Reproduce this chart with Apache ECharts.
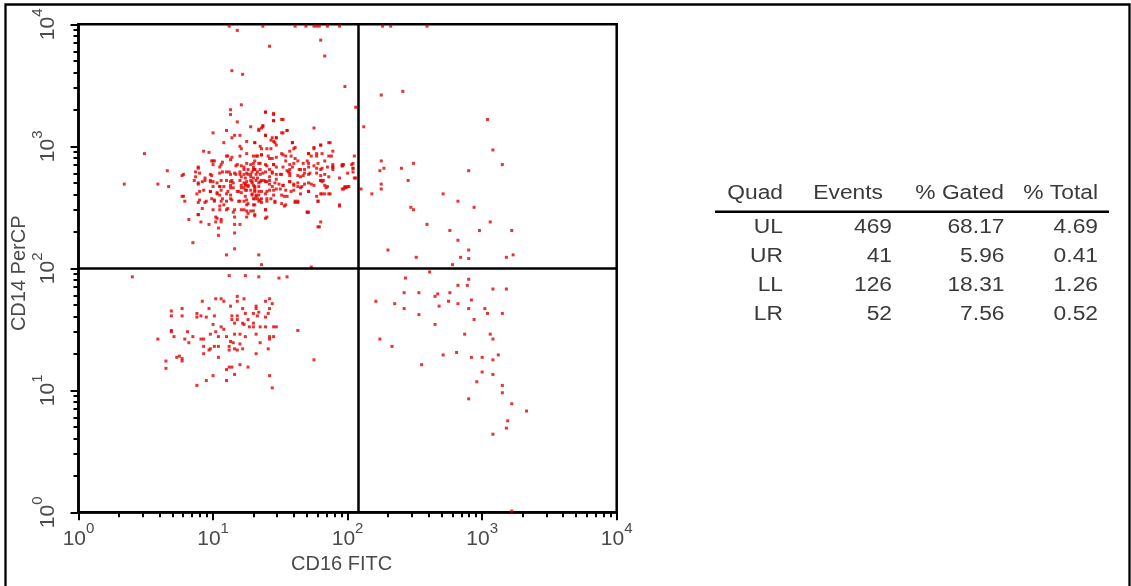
<!DOCTYPE html>
<html>
<head>
<meta charset="utf-8">
<title>CD16 FITC vs CD14 PerCP</title>
<script src="https://cdn.jsdelivr.net/npm/echarts@6/dist/echarts.min.js"></script>
<style>
  html, body { margin: 0; padding: 0; background: #fff; }
  #main { width: 1131px; height: 586px; }
</style>
</head>
<body>
<div id="main"></div>
<script>
// events, in decades: [log10 CD16 FITC, log10 CD14 PerCP]
const ulPoints = [
  [1.12,3.985],[1.37,3.985],[1.61,3.985],[1.69,3.985],[1.75,3.985],[1.77,3.985],[1.79,3.985],[1.85,3.985],[1.94,3.985],
  [1.18,3.95],[1.42,3.82],[1.80,3.87],[1.83,3.74],[1.14,3.62],[1.22,3.59],[1.98,3.49],[2.06,3.32],
  [1.21,3.34],[1.13,3.30],[1.13,3.26],[1.39,3.28],[1.45,3.26],[1.51,3.22],[1.45,3.21],[1.18,3.20],[1.28,3.16],[1.37,3.17],
  [1.34,3.14],[1.55,3.13],[1.75,3.15],[1.10,3.13],[1.00,3.11],[1.16,3.09],[1.20,3.09],[1.39,3.09],[1.14,3.07],[1.52,3.11],
  [1.47,3.07],[1.45,3.04],[1.08,3.03],[1.25,3.04],[1.31,3.03],[1.20,3.00],[1.21,2.98],[1.35,3.00],[1.40,2.98],[1.59,3.03],
  [1.60,2.98],[1.80,3.01],[1.87,3.03],[1.75,2.98],[0.93,2.96],[0.97,2.95],[0.49,2.94],
  [1.10,2.92],[1.14,2.91],[1.25,2.94],[1.33,2.92],[0.99,2.88],[1.01,2.88],[1.07,2.87],[1.17,2.84],[1.21,2.84],[0.89,2.83],
  [1.05,2.83],[1.25,2.86],[1.28,2.85],[1.30,2.86],[0.66,2.80],[0.77,2.76],[0.87,2.79],[0.87,2.75],[0.99,2.76],[1.07,2.79],
  [1.12,2.79],[1.17,2.77],[1.20,2.77],[1.23,2.77],[1.28,2.77],[1.33,2.79],[1.33,2.74],[0.94,2.74],[0.59,2.69],[0.67,2.67],
  [0.89,2.69],[0.92,2.71],[0.98,2.72],[1.00,2.71],[1.06,2.72],[1.10,2.72],[1.14,2.72],[1.05,2.67],[1.08,2.67],[1.13,2.68],
  [0.90,2.63],[0.98,2.63],[1.03,2.62],[1.05,2.60],[1.11,2.63],[1.13,2.60],[1.19,2.63],[1.21,2.62],[1.25,2.64],[0.77,2.59],
  [0.79,2.55],[0.89,2.54],[0.94,2.54],[0.99,2.57],[1.01,2.55],[1.07,2.57],[1.10,2.55],[1.14,2.56],[1.19,2.55],[1.23,2.55],
  [1.26,2.53],[1.33,2.57],[1.05,2.51],[1.08,2.52],[1.11,2.49],[1.16,2.48],[1.21,2.48],[1.25,2.47],[1.28,2.47],[0.89,2.44],
  [0.82,2.40],[0.91,2.38],[0.97,2.36],[1.02,2.42],[1.02,2.38],[1.06,2.38],[1.16,2.36],[1.20,2.36],[1.04,2.33],[1.16,2.29],
  [1.04,2.27],[0.85,2.21],
  [1.23,2.81],[1.26,2.81],[1.29,2.79],[1.31,2.81],[1.24,2.74],[1.28,2.72],[1.30,2.74],[1.35,2.77],[1.21,2.68],[1.24,2.69],
  [1.26,2.68],[1.29,2.70],[1.31,2.67],[1.34,2.70],[1.23,2.66],[1.28,2.64],[1.31,2.63],[1.34,2.60],[1.24,2.59],[1.29,2.60],
  [1.31,2.57],[1.25,2.52],[1.30,2.52],[1.34,2.55],
  [1.39,3.28],[1.45,3.27],[1.45,3.21],[1.52,3.22],[1.37,3.16],[1.36,3.15],[1.34,3.13],[1.55,3.13],[1.51,3.11],[1.39,3.09],
  [1.44,3.07],[1.47,3.07],[1.43,3.05],[1.31,3.03],[1.59,3.03],[1.46,3.03],[1.47,3.01],[1.36,2.98],[1.36,2.93],[1.43,2.98],
  [1.61,2.99],[1.75,2.99],[1.80,3.01],[1.86,3.03],
  [1.57,2.96],[1.71,2.94],[1.73,2.92],[1.77,2.94],[1.51,2.94],[1.54,2.92],[1.41,2.92],[1.44,2.90],[1.32,2.92],[1.31,2.88],
  [1.34,2.86],[2.05,2.92],[1.86,2.92],[1.89,2.96],[1.61,2.90],[1.63,2.88],[1.70,2.88],[1.71,2.86],[1.83,2.88],[1.78,2.86],
  [1.39,2.85],[1.45,2.85],[1.47,2.83],[1.54,2.88],[1.57,2.85],[1.59,2.83],[1.65,2.81],[1.68,2.81],[1.77,2.82],[1.80,2.81],
  [1.85,2.83],[1.89,2.83],[1.89,2.81],[1.96,2.84],[2.03,2.85],[2.04,2.82],[1.31,2.81],[1.35,2.81],[1.39,2.79],[1.44,2.79],
  [1.47,2.77],[1.42,2.75],[1.51,2.77],[1.56,2.79],[1.57,2.76],[1.63,2.76],[1.67,2.76],[1.71,2.77],[1.80,2.76],[1.83,2.77],
  [1.94,2.74],[2.05,2.74],[1.32,2.72],[1.36,2.72],[1.39,2.71],[1.42,2.69],[1.49,2.69],[1.52,2.68],[1.57,2.71],[1.60,2.69],
  [1.63,2.67],[1.68,2.69],[1.73,2.69],[1.80,2.72],[1.82,2.72],[1.83,2.68],[1.84,2.66],[1.98,2.66],[2.00,2.67],[1.96,2.65],
  [1.31,2.64],[1.36,2.63],[1.40,2.63],[1.45,2.64],[1.50,2.65],[1.60,2.64],[1.65,2.66],[1.71,2.63],[1.80,2.61],[1.83,2.61],
  [1.86,2.61],[1.32,2.60],[1.36,2.57],[1.40,2.57],[1.43,2.57],[1.53,2.59],[1.61,2.55],[1.63,2.54],[1.78,2.55],[1.36,2.54],
  [1.31,2.52],[1.46,2.54],[1.53,2.51],[1.94,2.51],[1.39,2.48],[1.70,2.46],[1.31,2.44],[1.40,2.42],[1.80,2.38],[1.78,2.34],
  [0.34,2.69],[0.78,2.77],[0.78,2.59],[1.10,2.11],[1.16,2.16],[1.34,2.11],[1.36,2.03],[1.73,2.01],[1.79,2.34],[1.71,2.46],
  [1.94,2.52],[1.98,2.67],[2.01,2.67],[2.04,2.79],[2.04,2.86],[1.97,2.85],[1.89,2.83],[1.96,2.84],[2.00,2.78],[2.04,2.82],
  [2.06,2.74],[1.97,2.65],[1.99,2.66],
  [1.00,2.88],[1.11,2.92],[1.13,2.89],[1.20,2.92],[1.30,2.92],[1.36,2.93],[1.42,2.90],[1.47,2.91],[1.52,2.93],[1.58,2.92],
  [1.71,2.94],[1.77,2.92],[1.81,2.94],[1.88,2.92],
  [0.89,2.82],[0.90,2.78],[1.00,2.85],[1.06,2.85],[1.18,2.85],[1.23,2.83],[1.30,2.83],[1.35,2.86],[1.40,2.84],[1.45,2.85],
  [1.52,2.83],[1.57,2.81],[1.64,2.81],[1.71,2.83],[1.75,2.84],[1.81,2.82],[1.89,2.85],[1.96,2.85],
  [0.86,2.72],[0.98,2.77],[1.05,2.78],[1.10,2.79],[1.16,2.78],[1.21,2.75],[1.26,2.77],[1.32,2.77],[1.37,2.78],[1.44,2.78],
  [1.50,2.77],[1.55,2.80],[1.57,2.78],[1.65,2.75],[1.72,2.78],[1.80,2.72],
  [0.89,2.70],[0.98,2.71],[1.03,2.70],[1.05,2.67],[1.15,2.70],[1.23,2.70],[1.25,2.71],[1.30,2.68],[1.35,2.71],[1.40,2.71],
  [1.46,2.70],[1.52,2.68],[1.57,2.71],[1.63,2.70],[1.66,2.67],[1.71,2.70],[1.75,2.68],[1.81,2.71],
  [0.88,2.61],[0.93,2.64],[0.98,2.63],[1.06,2.64],[1.10,2.61],[1.18,2.63],[1.24,2.64],[1.29,2.61],[1.34,2.63],[1.39,2.61],
  [1.42,2.64],[1.47,2.65],[1.54,2.64],[1.58,2.63],[1.71,2.63],[1.81,2.61],[1.87,2.61],
  [0.90,2.56],[0.95,2.55],[1.01,2.56],[1.06,2.55],[1.13,2.57],[1.20,2.55],[1.25,2.56],[1.30,2.57],[1.32,2.59],[1.40,2.55],
  [1.46,2.55],[1.51,2.53],[1.61,2.54],[1.63,2.55],[1.78,2.55],
  [0.92,2.49],[1.00,2.48],[1.05,2.48],[1.10,2.48],[1.15,2.46],[1.23,2.48],[1.26,2.45],[1.30,2.47],[1.39,2.48],[1.54,2.52],
  [1.70,2.46],[0.89,2.44],[1.03,2.41],[1.06,2.40],[1.16,2.42],[1.25,2.42],[1.31,2.43],[1.39,2.41],
  [1.20,2.72],[1.24,2.68],[1.26,2.67],[1.29,2.71],[1.31,2.66],[1.21,2.66],[1.28,2.75],[1.15,2.66],[1.34,2.67],[1.38,2.72],
  [1.42,2.72],[1.44,2.67],[1.47,2.73],[1.45,2.60],[1.35,2.56],[1.42,2.81],[1.30,2.81],[1.25,2.78],[1.20,2.79],[1.13,2.77],
  [1.13,2.71],[1.13,2.66],[1.03,2.61],[1.00,2.67],[0.94,2.72],[1.51,2.60],[1.55,2.59],[1.60,2.68],[1.60,2.86],[1.67,2.86],
  [1.68,2.78],[1.77,2.78],[1.86,2.75],[1.85,2.67],[1.77,2.59],[1.65,2.61]
];

const urPoints = [
  [2.26,3.985],[2.32,3.985],[2.59,3.985],
  [2.25,3.42],[2.41,3.45],[2.12,3.16],[2.18,2.61],[2.24,2.80],[3.04,3.22],[3.08,2.97],[3.15,2.85],[2.90,2.80],[2.25,2.88],
  [2.27,2.82],[2.40,2.82],[2.49,2.86],[2.45,2.72],[2.25,2.69],[2.25,2.65],[2.10,2.65],[2.71,2.61],[2.82,2.55],[2.47,2.50],
  [2.49,2.48],[2.94,2.50],[2.59,2.36],[3.06,2.38],[2.76,2.31],[2.98,2.31],[3.22,2.31],[2.82,2.23],[2.30,2.15],[2.90,2.15],
  [2.51,2.09],[2.84,2.09],[2.90,2.08],[3.18,2.09],[3.23,2.11],[2.78,2.03]
];

const llPoints = [
  [0.40,1.93],[1.12,1.94],[1.24,1.94],[1.34,1.93],[1.49,1.92],[1.55,1.93],
  [0.92,1.73],[1.02,1.75],[1.06,1.75],[1.08,1.73],[1.18,1.77],[1.18,1.73],[1.23,1.75],[1.39,1.73],[1.42,1.75],[1.44,1.71],
  [1.13,1.69],[0.97,1.67],[0.77,1.67],[1.22,1.67],[1.32,1.69],[1.32,1.67],[1.34,1.64],[1.42,1.67],[1.41,1.63],[0.69,1.65],
  [0.69,1.61],[0.77,1.61],[0.88,1.63],[0.91,1.61],[0.88,1.60],[1.01,1.61],[0.95,1.60],[1.14,1.61],[1.14,1.58],[1.18,1.61],
  [1.18,1.58],[1.24,1.63],[1.30,1.63],[1.33,1.61],[1.26,1.58],[1.16,1.55],[1.22,1.55],[1.23,1.54],[1.30,1.55],[1.27,1.52],
  [1.30,1.52],[1.35,1.52],[1.39,1.52],[1.45,1.52],[1.47,1.52],[1.39,1.60],[1.00,1.54],[1.06,1.52],[1.08,1.50],[0.69,1.49],
  [0.69,1.48],[0.81,1.48],[1.02,1.48],[0.98,1.46],[0.71,1.44],[0.59,1.42],[0.79,1.42],[0.85,1.44],[0.91,1.42],[0.93,1.42],
  [1.04,1.44],[1.10,1.44],[1.16,1.46],[1.20,1.46],[1.24,1.44],[1.32,1.46],[1.42,1.44],[1.42,1.42],[1.45,1.44],[0.82,1.39],
  [1.13,1.40],[1.15,1.39],[1.20,1.38],[1.35,1.39],[0.93,1.36],[0.93,1.30],[1.01,1.36],[1.04,1.36],[1.12,1.36],[1.12,1.33],
  [1.16,1.34],[1.18,1.33],[1.22,1.34],[0.98,1.34],[0.97,1.33],[1.41,1.34],[1.32,1.30],[0.75,1.28],[0.73,1.27],[0.77,1.26],
  [0.77,1.24],[0.65,1.24],[0.65,1.18],[1.04,1.27],[1.20,1.21],[1.12,1.19],[1.14,1.19],[1.10,1.17],[1.26,1.19],[1.16,1.13],
  [1.00,1.12],[1.42,1.12],[0.95,1.08],[1.10,1.08],[0.88,1.04],[1.44,1.02],[1.63,1.49],[1.75,1.25]
];

const lrPoints = [
  [2.61,1.97],[2.43,1.92],[2.90,1.91],[2.82,1.86],[2.89,1.86],[3.08,1.83],[3.18,1.83],[2.42,1.80],[2.53,1.80],[2.65,1.77],
  [2.67,1.79],[2.76,1.80],[2.21,1.73],[2.35,1.71],[2.42,1.67],[2.75,1.73],[2.82,1.71],[2.92,1.74],[2.68,1.69],[2.90,1.67],
  [3.02,1.67],[3.04,1.63],[3.15,1.63],[2.53,1.62],[2.94,1.58],[2.65,1.54],[2.87,1.46],[3.06,1.46],[3.08,1.42],[2.24,1.42],
  [2.33,1.36],[2.81,1.31],[2.71,1.29],[2.92,1.27],[3.00,1.27],[3.08,1.25],[3.12,1.29],[2.55,1.21],[3.00,1.15],[3.08,1.13],
  [2.96,1.07],[3.15,1.04],[3.15,0.98],[2.90,0.93],[3.22,0.89],[3.33,0.83],[3.19,0.75],[3.18,0.69],[3.08,0.64],[3.22,0.01]
];

const decadeLabels = [0, 1, 2, 3, 4];
const minorSteps = [2, 3, 4, 5, 6, 7, 8, 9];
const quadGateX = 120;   // CD16 FITC gate
const quadGateY = 100;   // CD14 PerCP gate

const tableHeader = ['Quad', 'Events', '% Gated', '% Total'];
const quadNames = ['UL', 'UR', 'LL', 'LR'];
const quadEvents = [469, 41, 126, 52];
const quadGated = ['68.17', '5.96', '18.31', '7.56'];
const quadTotal = ['4.69', '0.41', '1.26', '0.52'];

const font = '"Liberation Sans", Arial, Helvetica, sans-serif';
const grey = '#4a4a4a';
const red = '#e30000';

const minorTicks = [];
decadeLabels.slice(0, -1).forEach(function (d) {
  minorSteps.forEach(function (m) { minorTicks.push(d + Math.log10(m)); });
});

const labelRich = {
  b: { fontSize: 21, fontFamily: font, color: grey, lineHeight: 28, verticalAlign: 'bottom' },
  s: { fontSize: 15, fontFamily: font, color: grey, lineHeight: 15, verticalAlign: 'top' }
};

function decadeLabel(v) {
  return '{b|10}{s|' + v + '}';
}

function majorAxis(extra) {
  return Object.assign({
    type: 'value',
    min: decadeLabels[0],
    max: decadeLabels[decadeLabels.length - 1],
    interval: 1,
    axisLine: { show: true, onZero: false, lineStyle: { color: '#000', width: 2.5 } },
    axisTick: { show: true, length: 8, lineStyle: { color: '#000', width: 2 } },
    axisLabel: { formatter: decadeLabel, rich: labelRich },
    splitLine: { show: false },
    nameLocation: 'middle'
  }, extra);
}

function minorAxis(extra) {
  return Object.assign({
    type: 'value',
    min: decadeLabels[0],
    max: decadeLabels[decadeLabels.length - 1],
    axisLine: { show: false },
    axisTick: { show: true, length: 5, customValues: minorTicks, lineStyle: { color: '#000', width: 2 } },
    axisLabel: { show: false },
    splitLine: { show: false },
    silent: true
  }, extra);
}

function dots(name, data) {
  return {
    name: name,
    type: 'scatter',
    data: data,
    symbol: 'rect',
    symbolSize: 3,
    itemStyle: { color: red },
    silent: true,
    xAxisIndex: 0,
    yAxisIndex: 0
  };
}

function tableText(text, x, y) {
  return {
    type: 'text',
    x: x,
    y: y,
    scaleX: 1.14,
    silent: true,
    style: {
      text: text,
      fill: '#3a3a3a',
      font: '20px ' + font,
      textAlign: 'right',
      textVerticalAlign: 'middle',
      align: 'right',
      verticalAlign: 'middle'
    }
  };
}

const headerRight = [783, 883, 1004, 1098];
const cellRight = [783, 892, 1004.5, 1098];
const rowY = [227, 256, 285.5, 314.5];

const graphics = [
  {
    type: 'polyline',
    silent: true,
    shape: { points: [[5.5, 590], [5.5, 4.5], [1129.5, 4.5], [1129.5, 590]] },
    style: { stroke: '#000', lineWidth: 2.3, fill: null }
  },
  {
    type: 'line',
    silent: true,
    shape: { x1: 715, y1: 211.7, x2: 1109, y2: 211.7 },
    style: { stroke: '#000', lineWidth: 2.5 }
  }
];
tableHeader.forEach(function (h, i) { graphics.push(tableText(h, headerRight[i], 193.3)); });
quadNames.forEach(function (q, r) {
  const cells = [q, String(quadEvents[r]), quadGated[r], quadTotal[r]];
  cells.forEach(function (c, i) { graphics.push(tableText(c, cellRight[i], rowY[r])); });
});

const chart = echarts.init(document.getElementById('main'), null, { renderer: 'canvas' });

const series = [
  dots('UL', ulPoints),
  dots('UR', urPoints),
  dots('LL', llPoints),
  dots('LR', lrPoints)
];
series[0].markLine = {
  silent: true,
  symbol: 'none',
  animation: false,
  label: { show: false },
  lineStyle: { color: '#000', width: 2.5, type: 'solid' },
  data: [{ xAxis: Math.log10(quadGateX) }, { yAxis: Math.log10(quadGateY) }]
};

chart.setOption({
  animation: false,
  backgroundColor: '#fff',
  grid: {
    left: 78.5, right: 514.3, top: 24.3, bottom: 73.7,
    show: true, borderColor: '#000', borderWidth: 2.5
  },
  xAxis: [
    majorAxis({
      position: 'bottom',
      name: 'CD16 FITC',
      nameGap: 40,
      nameTextStyle: { fontSize: 20, fontFamily: font, color: grey, padding: [0, 12, 0, 0] },
      axisLabel: { formatter: decadeLabel, rich: labelRich, margin: 9 }
    }),
    minorAxis({ position: 'bottom' })
  ],
  yAxis: [
    majorAxis({
      position: 'left',
      name: 'CD14 PerCP',
      nameGap: 48,
      nameTextStyle: { fontSize: 20, fontFamily: font, color: grey, padding: [0, 10, 0, 0] },
      axisLabel: { formatter: decadeLabel, rich: labelRich, margin: 20, rotate: 90 }
    }),
    minorAxis({ position: 'left' })
  ],
  series: series,
  graphic: graphics
});
</script>
</body>
</html>
